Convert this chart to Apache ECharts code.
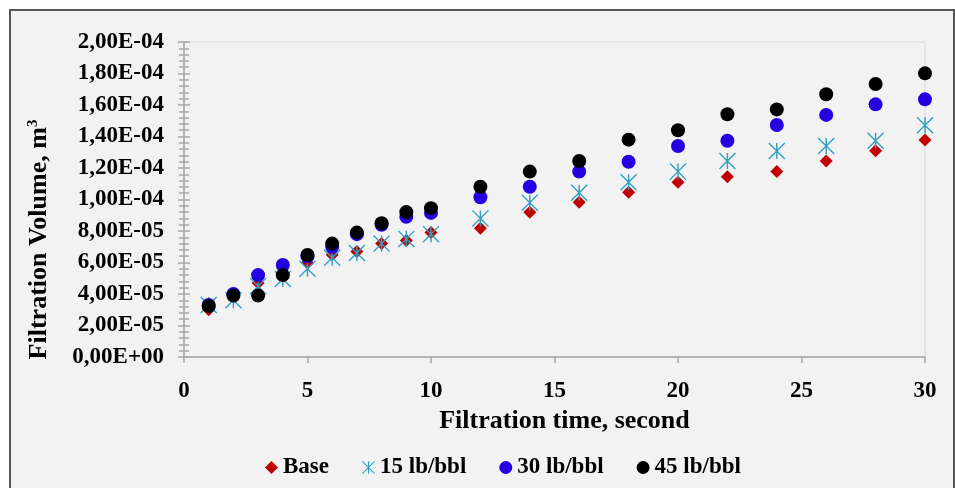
<!DOCTYPE html>
<html>
<head>
<meta charset="utf-8">
<script src="https://cdn.jsdelivr.net/npm/echarts@6/dist/echarts.min.js"></script>
<style>
  html, body { margin: 0; padding: 0; background: #ffffff; }
  #chart { width: 955px; height: 488px; }
</style>
</head>
<body>
<div id="chart"></div>
<script>
// Filtration time, s
const times = [1, 2, 3, 4, 5, 6, 7, 8, 9, 10, 12, 14, 16, 18, 20, 22, 24, 26, 28, 30];

// Filtration volume, m3
const baseVol = [3.0e-5, 3.9e-5, 4.7e-5, 5.3e-5, 5.97e-5, 6.5e-5, 6.7e-5, 7.2e-5, 7.4e-5, 7.9e-5,
                 8.17e-5, 9.19e-5, 9.82e-5, 10.46e-5, 11.09e-5, 11.45e-5, 11.77e-5, 12.44e-5, 13.1e-5, 13.78e-5];
const vol15 = [3.3e-5, 3.6e-5, 4.5e-5, 4.95e-5, 5.6e-5, 6.3e-5, 6.6e-5, 7.2e-5, 7.5e-5, 7.8e-5,
               8.8e-5, 9.8e-5, 10.43e-5, 11.09e-5, 11.77e-5, 12.44e-5, 13.08e-5, 13.4e-5, 13.73e-5, 14.71e-5];
const vol30 = [3.3e-5, 4.0e-5, 5.2e-5, 5.84e-5, 6.4e-5, 7.0e-5, 7.8e-5, 8.4e-5, 8.9e-5, 9.15e-5,
               10.14e-5, 10.81e-5, 11.77e-5, 12.4e-5, 13.4e-5, 13.73e-5, 14.73e-5, 15.37e-5, 16.04e-5, 16.36e-5];
const vol45 = [3.24e-5, 3.9e-5, 3.9e-5, 5.2e-5, 6.48e-5, 7.2e-5, 7.9e-5, 8.5e-5, 9.2e-5, 9.45e-5,
               10.81e-5, 11.77e-5, 12.44e-5, 13.8e-5, 14.4e-5, 15.41e-5, 15.72e-5, 16.68e-5, 17.33e-5, 18.01e-5];

const seriesNames = ['Base', '15 lb/bbl', '30 lb/bbl', '45 lb/bbl'];

// y tick labels, 0 .. 2e-4 in steps of 2e-5
const yTickLabels = ['0,00E+00', '2,00E-05', '4,00E-05', '6,00E-05', '8,00E-05', '1,00E-04',
                     '1,20E-04', '1,40E-04', '1,60E-04', '1,80E-04', '2,00E-04'];

const FONT = '"Liberation Serif", "Times New Roman", serif';
const AXIS_GREY = '#a6a6a6';

// six-armed star marker: vertical bar plus an X
const STAR = 'path://M-0.9,-10L0.9,-10L0.9,10L-0.9,10Z' +
  'M-9.4,-10.6L10.6,9.4L9.4,10.6L-10.6,-9.4Z' +
  'M9.4,-10.6L10.6,-9.4L-9.4,10.6L-10.6,9.4Z';

function pairs(vals) { return times.map((t, i) => [t, vals[i]]); }

const chart = echarts.init(document.getElementById('chart'), null, { renderer: 'canvas' });

const yCommon = {
  type: 'value', min: 0, max: 2e-4, interval: 2e-5,
  splitLine: { show: false }
};
const tickLine = { color: AXIS_GREY, width: 1.5 };

chart.setOption({
  backgroundColor: '#ffffff',
  animation: false,
  graphic: [{
    type: 'rect', z: -10, silent: true,
    shape: { x: 10, y: 10, width: 944, height: 490 },
    style: { fill: '#f2f2f2', stroke: '#555555', lineWidth: 2 }
  }],
  grid: {
    left: 184, right: 30, top: 42, bottom: 131,
    show: true, borderColor: '#d9d9d9', borderWidth: 1, backgroundColor: 'transparent'
  },
  xAxis: {
    type: 'value', min: 0, max: 30, interval: 5,
    name: 'Filtration time, second', nameLocation: 'middle', nameGap: 40,
    nameTextStyle: { fontFamily: FONT, fontWeight: 'bold', fontSize: 26, color: '#000', padding: [0, 0, 0, 20] },
    axisLine: { lineStyle: tickLine },
    axisTick: { show: true, length: 6, lineStyle: tickLine },
    axisLabel: { fontFamily: FONT, fontWeight: 'bold', fontSize: 23, color: '#000', margin: 23 },
    splitLine: { show: false }
  },
  yAxis: [
    Object.assign({}, yCommon, {
      position: 'left',
      name: '{t|Filtration Volume, m}{s|3}', nameLocation: 'middle', nameGap: 131, nameRotate: 90,
      nameTextStyle: {
        padding: [0, 80, 0, 0],
        rich: {
          t: { fontFamily: FONT, fontWeight: 'bold', fontSize: 26, color: '#000' },
          s: { fontFamily: FONT, fontWeight: 'bold', fontSize: 15, color: '#000', verticalAlign: 'top', padding: [0, 0, 12, 0] }
        }
      },
      axisLine: { show: true, lineStyle: tickLine },
      axisTick: { show: true, length: 6, lineStyle: tickLine },
      minorTick: { show: true, splitNumber: 5, length: 5, lineStyle: tickLine },
      axisLabel: {
        fontFamily: FONT, fontWeight: 'bold', fontSize: 23, color: '#000', margin: 20,
        formatter: v => yTickLabels[Math.round(v / 2e-5)]
      }
    }),
    Object.assign({}, yCommon, {
      position: 'left',
      axisLine: { show: false },
      axisTick: { show: true, inside: true, length: 6, lineStyle: tickLine },
      minorTick: { show: true, splitNumber: 5, length: 5, lineStyle: tickLine },
      axisLabel: { show: false }
    })
  ],
  legend: {
    top: 451, left: 260,
    itemWidth: 13, itemHeight: 13, itemGap: 33,
    textStyle: { fontFamily: FONT, fontWeight: 'bold', fontSize: 23, color: '#000' },
    data: seriesNames
  },
  series: [
    { name: seriesNames[0], type: 'scatter', data: pairs(baseVol), symbol: 'diamond', symbolSize: 13,
      itemStyle: { color: '#c00000', opacity: 1 } },
    { name: seriesNames[1], type: 'scatter', data: pairs(vol15), symbol: STAR, symbolSize: 17,
      itemStyle: { color: '#2f9fc2', opacity: 1 } },
    { name: seriesNames[2], type: 'scatter', data: pairs(vol30), symbol: 'circle', symbolSize: 14,
      itemStyle: { color: '#2300e0', opacity: 1 } },
    { name: seriesNames[3], type: 'scatter', data: pairs(vol45), symbol: 'circle', symbolSize: 14,
      itemStyle: { color: '#000000', opacity: 1 } }
  ]
});
</script>
</body>
</html>
